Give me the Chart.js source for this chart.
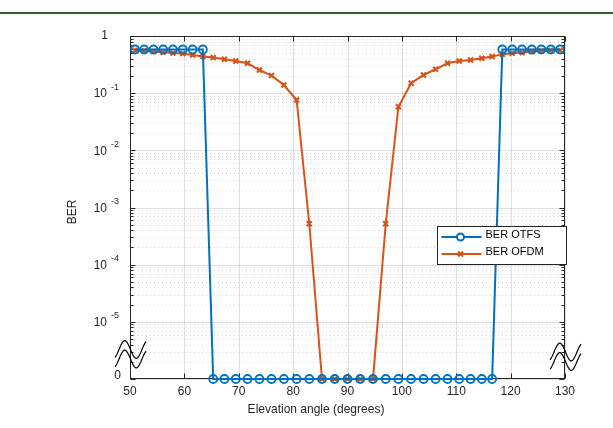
<!DOCTYPE html>
<html><head><meta charset="utf-8">
<script src="https://cdn.jsdelivr.net/npm/chart.js@4.4.1/dist/chart.umd.min.js"></script>
<style>
html,body{margin:0;padding:0;background:#fff;}
#wrap{position:relative;width:613px;height:428px;overflow:hidden;}
canvas{position:absolute;left:0;top:0;}
#topline{position:absolute;left:0;top:12px;width:613px;height:2px;background:#2c682c;}
</style></head><body>
<div id="wrap"><canvas id="c" width="613" height="428"></canvas><div id="topline"></div></div>
<script>
// ---- data ----
const elevation = [50.92, 52.61, 54.34, 56.10, 57.90, 59.71, 61.53, 63.40, 65.30, 67.36,
  69.46, 71.61, 73.80, 76.02, 78.30, 80.64, 82.97, 85.31, 87.66, 90.00,
  92.34, 94.69, 97.03, 99.36, 101.70, 103.98, 106.20, 108.39, 110.54, 112.64,
  114.70, 116.60, 118.47, 120.29, 122.10, 123.90, 125.66, 127.39, 129.08];
const berOTFS = [0.58, 0.58, 0.58, 0.58, 0.58, 0.58, 0.58, 0.58, 0, 0,
  0, 0, 0, 0, 0, 0, 0, 0, 0, 0,
  0, 0, 0, 0, 0, 0, 0, 0, 0, 0,
  0, 0, 0.58, 0.58, 0.58, 0.58, 0.58, 0.58, 0.58];
const berOFDM = [0.556, 0.547, 0.533, 0.519, 0.504, 0.492, 0.465, 0.436, 0.419, 0.391,
  0.365, 0.333, 0.254, 0.203, 0.139, 0.076, 5.2e-4, 0, 0, 0,
  0, 0, 5.2e-4, 0.058, 0.149, 0.208, 0.262, 0.333, 0.365, 0.38,
  0.407, 0.436, 0.479, 0.498, 0.512, 0.533, 0.547, 0.556, 0.556];
const seriesNames = ['BER OTFS', 'BER OFDM'];
const xTicks = [50, 60, 70, 80, 90, 100, 110, 120, 130];
const yTickExponents = [0, -1, -2, -3, -4, -5];   // 10^0 shown as "1"
const zeroLevel = 1e-6;                           // axis floor, labelled "0"
const xTitle = 'Elevation angle (degrees)';
const yTitle = 'BER';

const FONT = '"Liberation Sans", Arial, sans-serif';
const AXIS = '#262626';
const toPts = (ys) => elevation.map((x, i) => ({x: x, y: ys[i] > 0 ? ys[i] : zeroLevel}));

function squiggle(ctx, cx, yc) {
  for (const off of [0, 9.5]) {
    ctx.beginPath();
    for (let dx = -15; dx <= 16; dx += 0.5) {
      const y = yc + off - 8.8 * Math.sin(2 * Math.PI * (dx + 11) / 23);
      if (dx === -15) ctx.moveTo(cx + dx, y); else ctx.lineTo(cx + dx, y);
    }
    ctx.stroke();
  }
}

const decor = {
  id: 'decor',
  beforeDatasetsDraw(chart) {
    const {ctx, chartArea: a, scales: {x, y}} = chart;
    ctx.save();
    ctx.lineWidth = 1;
    // minor horizontal grid (dotted)
    ctx.strokeStyle = 'rgba(0,0,0,0.17)';
    ctx.setLineDash([1, 3]);
    for (let e = -6; e < 0; e++) {
      for (let m = 2; m <= 9; m++) {
        const py = Math.round(y.getPixelForValue(m * Math.pow(10, e))) + 0.5;
        ctx.beginPath(); ctx.moveTo(a.left, py); ctx.lineTo(a.right, py); ctx.stroke();
      }
    }
    ctx.setLineDash([]);
    // major grid
    ctx.strokeStyle = 'rgba(0,0,0,0.12)';
    for (let e = -6; e <= 0; e++) {
      const py = Math.round(y.getPixelForValue(Math.pow(10, e))) + 0.5;
      ctx.beginPath(); ctx.moveTo(a.left, py); ctx.lineTo(a.right, py); ctx.stroke();
    }
    for (const v of xTicks) {
      const px = Math.round(x.getPixelForValue(v)) + 0.5;
      ctx.beginPath(); ctx.moveTo(px, a.top); ctx.lineTo(px, a.bottom); ctx.stroke();
    }
    // box and ticks
    ctx.strokeStyle = AXIS;
    const L = Math.round(a.left) + 0.5, R = Math.round(a.right) - 0.5,
          T = Math.round(a.top) + 0.5, B = Math.round(a.bottom) - 0.5;
    ctx.strokeRect(L, T, R - L, B - T);
    for (const v of xTicks) {
      const px = Math.round(x.getPixelForValue(v)) + 0.5;
      ctx.beginPath(); ctx.moveTo(px, B); ctx.lineTo(px, B - 5);
      ctx.moveTo(px, T); ctx.lineTo(px, T + 5); ctx.stroke();
    }
    for (let e = -6; e <= 0; e++) {
      const py = Math.round(y.getPixelForValue(Math.pow(10, e))) + 0.5;
      ctx.beginPath(); ctx.moveTo(L, py); ctx.lineTo(L + 5, py);
      ctx.moveTo(R, py); ctx.lineTo(R - 5, py); ctx.stroke();
      if (e < 0) {
        for (let m = 2; m <= 9; m++) {
          const q = Math.round(y.getPixelForValue(m * Math.pow(10, e))) + 0.5;
          ctx.beginPath(); ctx.moveTo(L, q); ctx.lineTo(L + 3, q);
          ctx.moveTo(R, q); ctx.lineTo(R - 3, q); ctx.stroke();
        }
      }
    }
    ctx.restore();
  },
  afterDraw(chart) {
    const {ctx, chartArea: a, scales: {y}} = chart;
    ctx.save();
    ctx.fillStyle = AXIS;
    ctx.textBaseline = 'middle';
    ctx.textAlign = 'right';
    const xr = a.left - 11;
    for (const e of yTickExponents) {
      const py = y.getPixelForValue(Math.pow(10, e));
      if (e === 0) {
        ctx.font = '12px ' + FONT;
        ctx.fillText('1', xr - 11, py);
      } else {
        ctx.font = '9px ' + FONT;
        const sup = String(e);
        ctx.fillText(sup, xr, py - 6);
        const w = ctx.measureText(sup).width;
        ctx.font = '12px ' + FONT;
        ctx.fillText('10', xr - w - 4, py + 1);
      }
    }
    ctx.font = '12px ' + FONT;
    ctx.fillText('0', a.left - 9, y.getPixelForValue(zeroLevel) - 3);
    // axis titles
    ctx.textAlign = 'center';
    ctx.fillText(xTitle, 316, 410);
    ctx.save();
    ctx.translate(72.5, 212);
    ctx.rotate(-Math.PI / 2);
    ctx.fillText(yTitle, 0, 0);
    ctx.restore();
    // axis-break marks
    ctx.strokeStyle = '#000'; ctx.lineWidth = 1.2;
    squiggle(ctx, a.left, 349.5);
    squiggle(ctx, a.right, 352);
    // legend
    const lx = 437.5, ly = 226.5, lw = 129, lh = 38;
    ctx.fillStyle = '#fff'; ctx.fillRect(lx, ly, lw, lh);
    ctx.strokeStyle = AXIS; ctx.lineWidth = 1; ctx.strokeRect(lx, ly, lw, lh);
    chart.data.datasets.forEach((ds, i) => {
      const yy = ly + 10.5 + i * 17;
      ctx.strokeStyle = ds.borderColor; ctx.lineWidth = 2;
      ctx.beginPath(); ctx.moveTo(lx + 4, yy); ctx.lineTo(lx + 44, yy); ctx.stroke();
      Chart.helpers.drawPoint(ctx, {pointStyle: ds.pointStyle, radius: 3.5, borderWidth: ds.pointBorderWidth}, lx + 23, yy);
      ctx.fillStyle = '#000'; ctx.textAlign = 'left'; ctx.font = '11px ' + FONT;
      ctx.fillText(ds.label, lx + 48, yy - 2);
    });
    ctx.restore();
  }
};

new Chart(document.getElementById('c'), {
  type: 'line',
  data: {
    datasets: [
      {label: seriesNames[0], data: toPts(berOTFS), borderColor: '#0072BD', backgroundColor: 'rgba(0,0,0,0)',
       borderWidth: 2, pointStyle: 'circle', pointRadius: 4, pointBorderWidth: 1.8,
       pointBackgroundColor: 'rgba(0,0,0,0)', pointBorderColor: '#0072BD', tension: 0, clip: false},
      {label: seriesNames[1], data: toPts(berOFDM), borderColor: '#D95319', backgroundColor: 'rgba(0,0,0,0)',
       borderWidth: 2, pointStyle: 'crossRot', pointRadius: 3.5, pointBorderWidth: 2.2,
       pointBorderColor: '#D95319', tension: 0, clip: false}
    ]
  },
  options: {
    responsive: false, animation: false,
    layout: {padding: {left: 62, right: 48, top: 36, bottom: 7}},
    plugins: {legend: {display: false}, tooltip: {enabled: false}},
    scales: {
      x: {
        type: 'linear', min: 50, max: 130,
        afterBuildTicks: (s) => { s.ticks = xTicks.map(v => ({value: v})); },
        afterFit: (s) => { s.height = 42; },
        grid: {display: false, drawTicks: false},
        border: {display: false},
        ticks: {color: AXIS, font: {family: FONT, size: 12}, padding: 5, maxRotation: 0},
        title: {display: false}
      },
      y: {
        type: 'logarithmic', min: zeroLevel, max: 1,
        afterFit: (s) => { s.width = 68; },
        grid: {display: false, drawTicks: false},
        border: {display: false},
        ticks: {display: false},
        title: {display: false}
      }
    }
  },
  plugins: [decor]
});
</script>
</body></html>
